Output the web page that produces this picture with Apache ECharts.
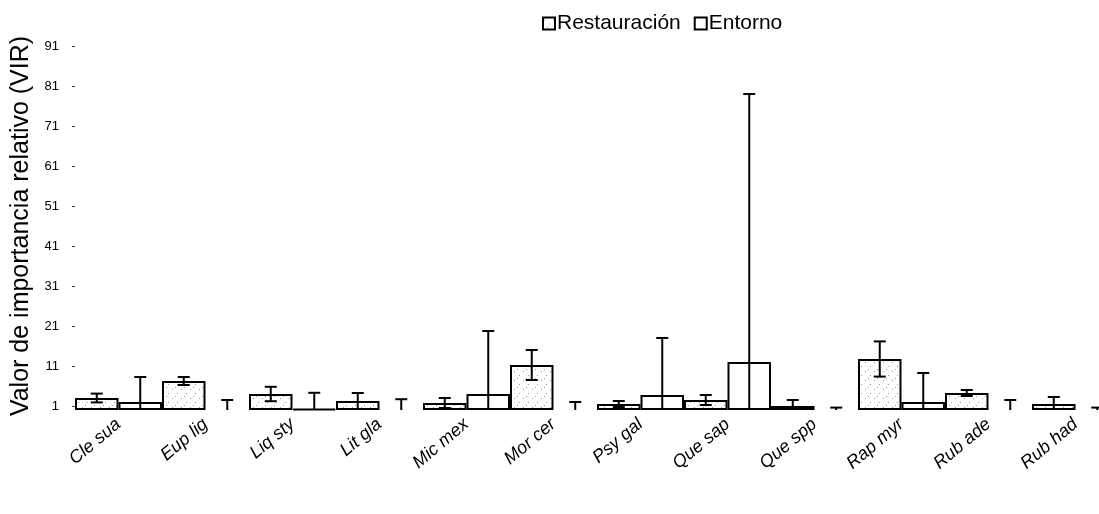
<!DOCTYPE html>
<html>
<head>
<meta charset="utf-8">
<script src="https://cdn.jsdelivr.net/npm/echarts@6/dist/echarts.min.js"></script>
<style>
html,body{margin:0;padding:0;background:#fff;overflow:hidden;}
#chart{width:1122px;height:514px;}
</style>
</head>
<body>
<div id="chart"></div>
<script>
// ---- data ----
var categories = ['Cle sua','Eup lig','Liq sty','Lit gla','Mic mex','Mor cer','Psy gal','Que sap','Que spp','Rap myr','Rub ade','Rub had'];
var restauracion = [3, 7.25, 4, 2.25, 1.75, 11.25, 1.5, 2.5, 1, 12.75, 4.25, 1.5];
var restauracionErr = [1.1, 1, 1.8, 2, 1.25, 3.75, 0.75, 1.25, 1.5, 4.4, 0.75, 1.75];
var entorno = [2, 0, 0.3, 0, 4, 0, 3.75, 12, 0, 2, 0, 0];
var entornoErr = [6.25, 2.5, 4, 2.7, 15.75, 2, 14.25, 67, 0.6, 7.25, 2.5, 0.6];
var yTicks = [1, 11, 21, 31, 41, 51, 61, 71, 81, 91];

// ---- speckle pattern for Restauración ----
var pc = document.createElement('canvas');
pc.width = 9; pc.height = 9;
var pctx = pc.getContext('2d');
pctx.fillStyle = '#fff'; pctx.fillRect(0,0,9,9);
pctx.fillStyle = '#9a9a9a';
pctx.fillRect(1,2,1,1); pctx.fillRect(6,6,1,1); pctx.fillRect(4,0,1,1);
var speckle = {image: pc, repeat: 'repeat'};

var FONT = '"Liberation Sans", Arial, sans-serif';

function barData(vals) {
  return vals.map(function(v){
    return v === 0 ? {value: v, itemStyle: {borderWidth: 0}} : v;
  });
}

function errSeries(name, vals, errs, side) {
  return {
    type: 'custom',
    name: name,
    z: 10,
    encode: {x: 0, y: 1},
    data: categories.map(function(c, i){ return [i, vals[i], errs[i]]; }),
    renderItem: function(params, api) {
      var i = api.value(0), v = api.value(1), e = api.value(2);
      var hi = v + e, loRaw = v - e, lo = Math.max(0, loRaw);
      var band = api.size([1, 0])[0];
      var off = (side === 0 ? -1 : 1) * band / 4;
      var pHi = api.coord([i, hi]);
      var pLo = api.coord([i, lo]);
      var x = pHi[0] + off;
      var cap = 6;
      var st = {stroke: '#000', lineWidth: 2};
      var ch = [
        {type: 'line', shape: {x1: x, y1: pHi[1], x2: x, y2: pLo[1]}, style: st},
        {type: 'line', shape: {x1: x - cap, y1: pHi[1], x2: x + cap, y2: pHi[1]}, style: st}
      ];
      if (loRaw > 0) {
        ch.push({type: 'line', shape: {x1: x - cap, y1: pLo[1], x2: x + cap, y2: pLo[1]}, style: st});
      }
      return {type: 'group', children: ch};
    }
  };
}

var chart = echarts.init(document.getElementById('chart'), null, {renderer: 'canvas'});
chart.setOption({
  animation: false,
  backgroundColor: '#fff',
  legend: {
    data: ['Restauración', 'Entorno'],
    left: 537, top: 8,
    itemWidth: 12, itemHeight: 12, itemGap: 13,
    textStyle: {fontFamily: FONT, fontSize: 21, color: '#000', padding: [0,0,0,-3]},
    icon: 'rect'
  },
  grid: {left: 75, right: 3, top: 42, bottom: 104, containLabel: false},
  xAxis: {
    type: 'category',
    data: categories,
    axisLine: {show: false},
    axisTick: {show: false},
    axisLabel: {
      rotate: 40, interval: 0, margin: 12,
      fontFamily: FONT, fontSize: 18, fontStyle: 'italic', color: '#000'
    }
  },
  yAxis: {
    type: 'value',
    min: 0, max: 92,
    name: 'Valor de importancia relativo (VIR)',
    nameLocation: 'middle', nameGap: 41,
    nameTextStyle: {fontFamily: FONT, fontSize: 25, color: '#000'},
    axisLine: {show: false},
    splitLine: {show: false},
    axisTick: {show: true, length: 3, customValues: yTicks, lineStyle: {color: '#444'}},
    axisLabel: {customValues: yTicks, margin: 16, fontFamily: FONT, fontSize: 13, color: '#000'}
  },
  series: [
    {
      name: 'Restauración', type: 'bar',
      data: barData(restauracion),
      barGap: '0%', barCategoryGap: '0%',
      itemStyle: {color: speckle, borderColor: '#000', borderWidth: 2}
    },
    {
      name: 'Entorno', type: 'bar',
      data: barData(entorno),
      barGap: '0%', barCategoryGap: '0%',
      itemStyle: {color: '#fff', borderColor: '#000', borderWidth: 2}
    },
    errSeries('errR', restauracion, restauracionErr, 0),
    errSeries('errE', entorno, entornoErr, 1)
  ]
});
</script>
</body>
</html>
